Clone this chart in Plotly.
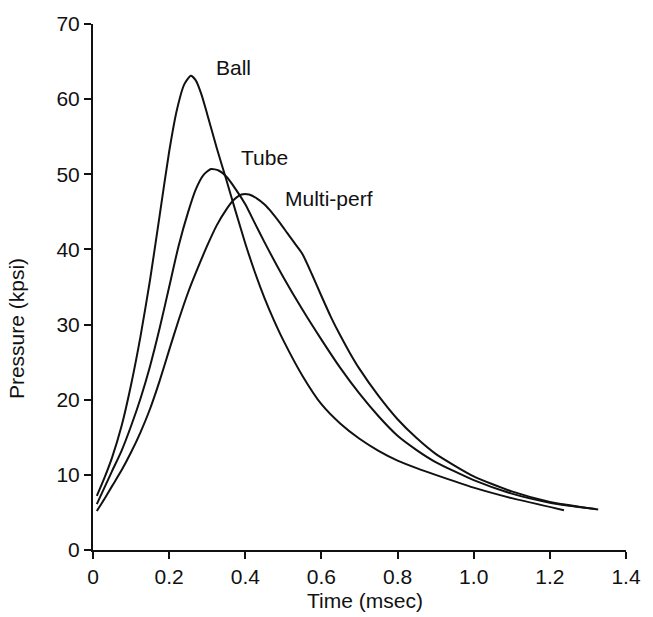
import plotly.graph_objects as go

# Pressure–time traces for three propellant grain geometries
ball_t = [0.01, 0.03, 0.05, 0.075, 0.10, 0.125, 0.15, 0.175, 0.20, 0.22, 0.24, 0.257,
          0.27, 0.285, 0.30, 0.325, 0.35, 0.375, 0.40, 0.425, 0.45, 0.475, 0.50,
          0.55, 0.60, 0.65, 0.70, 0.75, 0.80, 0.85, 0.90, 1.00, 1.10, 1.237]
ball_p = [7.2, 9.6, 12.3, 16.5, 22.0, 28.5, 36.0, 44.5, 53.0, 58.5, 62.0, 63.1,
          62.5, 60.6, 58.0, 53.5, 49.3, 45.0, 40.8, 37.0, 33.6, 30.6, 27.9,
          23.2, 19.4, 16.8, 14.8, 13.2, 11.9, 10.9, 10.0, 8.3, 6.9, 5.3]

tube_t = [0.01, 0.03, 0.05, 0.075, 0.10, 0.125, 0.15, 0.175, 0.20, 0.225, 0.25, 0.27,
          0.29, 0.31, 0.33, 0.35, 0.375, 0.40, 0.425, 0.45, 0.50, 0.55, 0.60, 0.65,
          0.70, 0.75, 0.80, 0.85, 0.90, 1.00, 1.10, 1.20, 1.32]
tube_p = [6.1, 8.3, 10.5, 13.2, 16.5, 20.2, 24.5, 29.5, 35.0, 40.5, 45.0, 48.0,
          49.9, 50.7, 50.5, 49.7, 48.0, 46.0, 43.5, 41.0, 36.3, 32.0, 28.0, 24.2,
          20.8, 17.8, 15.2, 13.3, 11.7, 9.3, 7.5, 6.3, 5.45]

multi_t = [0.01, 0.03, 0.05, 0.075, 0.10, 0.125, 0.15, 0.175, 0.20, 0.225, 0.25, 0.275,
           0.30, 0.325, 0.35, 0.37, 0.39, 0.41, 0.43, 0.45, 0.47, 0.49, 0.51, 0.53,
           0.55, 0.575, 0.60, 0.625, 0.65, 0.675, 0.70, 0.75, 0.80, 0.85, 0.90,
           1.00, 1.10, 1.20, 1.327]
multi_p = [5.2, 6.8, 8.5, 10.6, 13.0, 15.7, 18.8, 22.5, 26.6, 30.6, 34.3, 37.5,
           40.5, 43.2, 45.3, 46.6, 47.3, 47.3, 46.8, 46.0, 44.9, 43.6, 42.2, 40.8,
           39.4, 36.7, 33.8, 31.0, 28.5, 26.2, 24.1, 20.5, 17.4, 14.9, 12.8,
           9.8, 7.8, 6.4, 5.4]

series_names = ["Ball", "Tube", "Multi-perf"]
label_pos = [(0.37, 64.2), (0.45, 52.2), (0.619, 46.8)]

x_ticks = [0, 0.2, 0.4, 0.6, 0.8, 1.0, 1.2, 1.4]
x_tick_text = ["0", "0.2", "0.4", "0.6", "0.8", "1.0", "1.2", "1.4"]
y_ticks = [0, 10, 20, 30, 40, 50, 60, 70]

FONT = "Liberation Sans, Arial, Helvetica, sans-serif"
INK = "#111111"
FS = 21

fig = go.Figure()
for name, t, p in zip(series_names, [ball_t, tube_t, multi_t], [ball_p, tube_p, multi_p]):
    fig.add_trace(go.Scatter(
        x=t, y=p, mode="lines", name=name,
        line=dict(color=INK, width=2, shape="spline", smoothing=0.6),
        showlegend=False, hoverinfo="skip",
    ))

for name, (lx, ly) in zip(series_names, label_pos):
    fig.add_annotation(x=lx, y=ly, text=name, showarrow=False,
                       xanchor="center", yanchor="middle",
                       font=dict(family=FONT, size=FS, color=INK))

# Axis titles
fig.add_annotation(xref="paper", yref="paper", x=0.51, y=0, yshift=-50,
                   text="Time (msec)", showarrow=False,
                   xanchor="center", yanchor="middle",
                   font=dict(family=FONT, size=FS, color=INK))
fig.add_annotation(xref="paper", yref="paper", x=0, xshift=-77, y=0.42,
                   text="Pressure (kpsi)", showarrow=False, textangle=-90,
                   xanchor="center", yanchor="middle",
                   font=dict(family=FONT, size=FS, color=INK))

axis_common = dict(
    showline=True, linecolor=INK, linewidth=2,
    ticks="outside", ticklen=7, tickwidth=2, tickcolor=INK,
    showgrid=False, zeroline=False,
    tickfont=dict(family=FONT, size=FS, color=INK),
)
fig.update_xaxes(range=[0, 1.4], tickvals=x_ticks, ticktext=x_tick_text, **axis_common)
fig.update_yaxes(range=[0, 70], tickvals=y_ticks, **axis_common)

fig.update_layout(
    width=653, height=617,
    margin=dict(l=93, r=17, t=23, b=67),
    plot_bgcolor="white", paper_bgcolor="white",
    font=dict(family=FONT, color=INK),
)

fig.write_html("out.html")
